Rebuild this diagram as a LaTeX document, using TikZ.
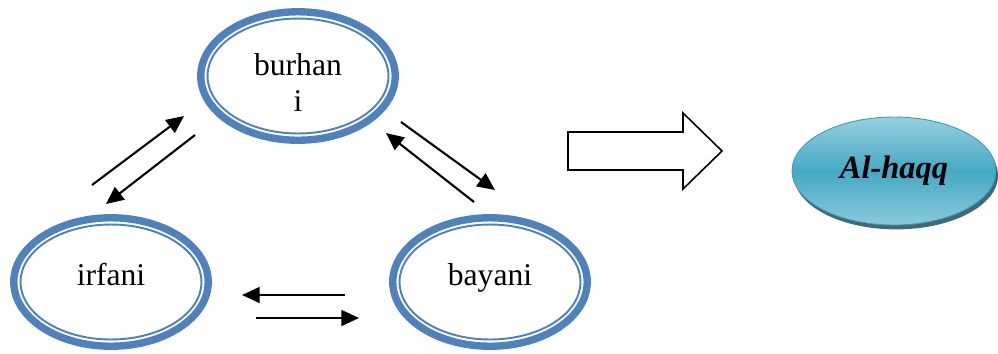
\documentclass[tikz,border=0pt]{standalone}
\usepackage{fontspec}
\setmainfont{Liberation Serif}
\usepackage{xcolor}
\usepackage{tikz}
\usetikzlibrary{arrows.meta, positioning, calc, shapes, shadows}

\definecolor{ringblue}{HTML}{4F81BD}
\definecolor{aqua}{HTML}{45A8C3}
\definecolor{aqualight}{HTML}{96D0E0}
\definecolor{aquaedge}{HTML}{3E9BB5}
\definecolor{aquashadow}{HTML}{2B5866}

\begin{document}
\begin{tikzpicture}[
    x=0.02cm, y=-0.02cm,
    ring/.style={ellipse, draw=ringblue, line width=4.2pt, minimum width=3.89cm, minimum height=2.57cm, align=center, font=\fontsize{18}{20.5}\selectfont},
    ringin/.style={ellipse, draw=ringblue, line width=1.1pt, minimum width=3.62cm, minimum height=2.3cm},
    oneline/.style={text height=12.5pt, text depth=8pt},
    flow/.style={line width=1.2pt, -{Triangle[length=10pt, width=9pt]}},
    bigarrow/.style={draw=black, line width=0.9pt, fill=white, line join=miter},
    goal/.style={ellipse, draw=aquaedge, line width=0.5pt, top color=aqualight, bottom color=aqualight!85!aqua, middle color=aqua, minimum width=4.08cm, minimum height=2.16cm, font=\fontsize{18.5}{20}\selectfont\bfseries\itshape, drop shadow={shadow xshift=1.2pt, shadow yshift=-2.5pt, fill=aquashadow, opacity=0.9}}
]
\useasboundingbox (0,0) rectangle (998,353);

% Three ways of knowing
\node[ringin] (burhani-in) at (298,76) {};
\node[ring, text height=40pt] (burhani) at (298,76) {burhan\\i};
\node[ringin] (irfani-in) at (111,282) {};
\node[ring, oneline] (irfani) at (111,282) {irfani};
\node[ringin] (bayani-in) at (490,282) {};
\node[ring, oneline] (bayani) at (490,282) {bayani};

% Arrow ends between the rings
\coordinate (ib-s) at (92,185);  \coordinate (ib-e) at (184,116);
\coordinate (bi-s) at (195,135); \coordinate (bi-e) at (106,204);
\coordinate (bb-s) at (401,122); \coordinate (bb-e) at (495,190);
\coordinate (ab-s) at (474,202); \coordinate (ab-e) at (386,133);
\coordinate (ai-s) at (345,295); \coordinate (ai-e) at (242,295);
\coordinate (ia-s) at (256,318); \coordinate (ia-e) at (359,318);

\draw[flow] (ib-s) -- (ib-e);
\draw[flow] (bi-s) -- (bi-e);
\draw[flow] (bb-s) -- (bb-e);
\draw[flow] (ab-s) -- (ab-e);
\draw[flow] (ai-s) -- (ai-e);
\draw[flow] (ia-s) -- (ia-e);

% Block arrow
\coordinate (tip) at (722,151);
\draw[bigarrow] (568,132) -- (683,132) -- (683,113) -- (tip) -- (683,189) -- (683,170) -- (568,170) -- cycle;

% Result
\node[goal] (haqq) at (894,171) {Al-haqq};

\end{tikzpicture}
\end{document}
